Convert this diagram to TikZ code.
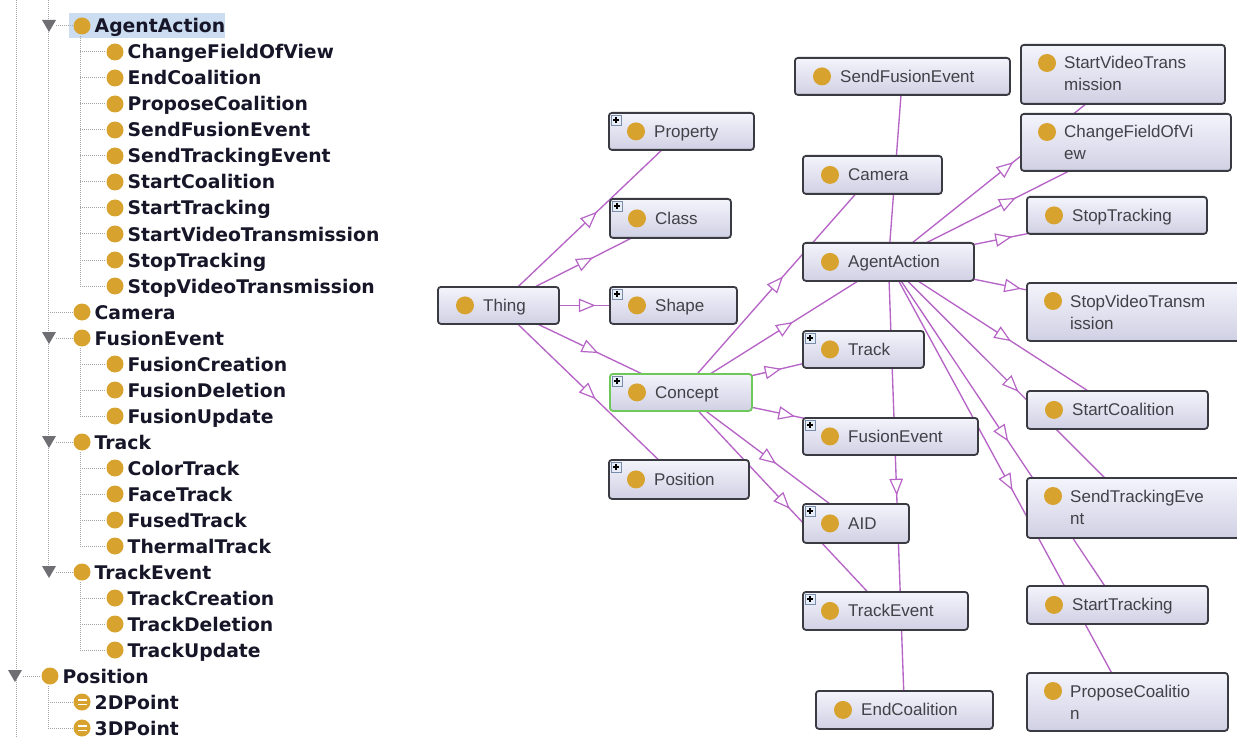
\documentclass[tikz,border=0pt]{standalone}
\usepackage{fontspec}
\setmainfont{Liberation Sans}
\newfontfamily\treefont{DejaVu Sans}
\usetikzlibrary{decorations.markings,calc}
\pgfdeclarelayer{bg}
\pgfsetlayers{bg,main}
\definecolor{edgecol}{RGB}{182,100,198}
\definecolor{gold}{RGB}{215,162,45}
\definecolor{boxtop}{RGB}{244,244,252}
\definecolor{boxbot}{RGB}{208,208,228}
\definecolor{boxline}{RGB}{58,58,66}
\definecolor{gtextcol}{RGB}{65,65,72}
\definecolor{treetext}{RGB}{22,22,40}
\definecolor{dotcol}{RGB}{165,165,165}
\definecolor{selcol}{RGB}{204,221,242}
\definecolor{concgreen}{RGB}{110,200,90}
\definecolor{trigray}{RGB}{110,110,115}
\definecolor{plusline}{RGB}{120,140,170}
\definecolor{plusfill}{RGB}{232,238,248}
\newcommand\midtri{\filldraw[fill=white,draw=edgecol,line width=1.2pt] (-6.5pt,-6pt) -- (8pt,0pt) -- (-6.5pt,6pt) -- cycle;}
\tikzset{
  gbox/.style={draw=boxline, line width=1.8pt, rounded corners=3pt, top color=boxtop, bottom color=boxbot, inner sep=0pt, anchor=north west},
  gtext/.style={text=gtextcol, font=\fontsize{17}{22}\selectfont, inner sep=0pt, anchor=base west},
  ttext/.style={text=treetext, font=\treefont\bfseries\fontsize{18.8}{22}\selectfont, inner sep=0pt, anchor=base west},
  dotline/.style={draw=dotcol, line width=1pt, dash pattern=on 1pt off 1pt},
  edge/.style={draw=edgecol, line width=1.35pt, postaction={decorate},
    decoration={markings, mark=at position 0.5 with {\midtri}}}
}
% graph box, one line
\newcommand\gbox[7][]{%
  \node[gbox,#1, minimum width={#5-#3}, minimum height={#6-#4}] (#2) at (#3,#4) {};
  \fill[gold] ($(#2.west)+(28,0)$) circle (9);
  \node[gtext] at ($(#2.west)+(46,6)$) {#7};
}
% graph box, two lines
\newcommand\gboxtwo[7]{%
  \node[gbox, minimum width={#4-#2}, minimum height={#5-#3}] (#1) at (#2,#3) {};
  \fill[gold] ($(#1.north west)+(27,19)$) circle (9);
  \node[gtext] at ($(#1.north west)+(44,25)$) {#6};
  \node[gtext] at ($(#1.north west)+(44,47)$) {#7};
}
\newcommand\gplus[1]{%
  \draw[plusline, fill=plusfill, line width=0.8pt] ($(#1.north west)+(3,3)$) rectangle +(10,10);
  \draw[black, line width=1.1pt] ($(#1.north west)+(5,8)$) -- +(6,0);
  \draw[black, line width=1.1pt] ($(#1.north west)+(8,5)$) -- +(0,6);
}
% tree entry
\newcommand\tnode[4]{%
  \fill[gold] (#2,#3) circle (8.5);
  \node[ttext] (#1) at (#2+12.5,#3+7) {#4};
}
\newcommand\ttri[2]{\fill[trigray] (#1-7,#2-6) -- (#1+7,#2-6) -- (#1,#2+6) -- cycle;}
\newcommand\gedge[2]{\draw[edge] (#1.center) -- (#2.center);}
\begin{document}
\begin{tikzpicture}[x=1pt,y=-1pt]
\useasboundingbox (0,0) rectangle (1237,738);
\clip (0,0) rectangle (1237,738);
% ---------- tree ----------
\fill[selcol] (69,13) rectangle (225,38);
\draw[dotline] (16,0) -- (16,738);
\draw[dotline] (48,0) -- (48,566);
\draw[dotline] (80,36) -- (80,286);
\foreach \yy in {52,78,...,286} {\draw[dotline] (80,\yy) -- (106,\yy);}
\draw[dotline] (80,348) -- (80,416);
\foreach \yy in {364,390,416} {\draw[dotline] (80,\yy) -- (106,\yy);}
\draw[dotline] (80,452) -- (80,546);
\foreach \yy in {468,494,520,546} {\draw[dotline] (80,\yy) -- (106,\yy);}
\draw[dotline] (80,582) -- (80,650);
\foreach \yy in {598,624,650} {\draw[dotline] (80,\yy) -- (106,\yy);}
\foreach \yy in {26,338,442,572} {\draw[dotline] (56,\yy) -- (73,\yy);}
\draw[dotline] (48,312) -- (73,312);
\draw[dotline] (23,676) -- (41,676);
\draw[dotline] (48,686) -- (48,728);
\foreach \yy in {702,728} {\draw[dotline] (48,\yy) -- (73,\yy);}
\ttri{49}{26}\ttri{49}{338}\ttri{49}{442}\ttri{49}{572}\ttri{15}{676}
\tnode{tAgent}{82}{26}{AgentAction}
\tnode{tCFOV}{115}{52}{ChangeFieldOfView}
\tnode{tEndC}{115}{78}{EndCoalition}
\tnode{tProp}{115}{104}{ProposeCoalition}
\tnode{tSFE}{115}{130}{SendFusionEvent}
\tnode{tSTE}{115}{156}{SendTrackingEvent}
\tnode{tSC}{115}{182}{StartCoalition}
\tnode{tST}{115}{208}{StartTracking}
\tnode{tSVT}{115}{234}{StartVideoTransmission}
\tnode{tStopT}{115}{260}{StopTracking}
\tnode{tStopV}{115}{286}{StopVideoTransmission}
\tnode{tCam}{82}{312}{Camera}
\tnode{tFE}{82}{338}{FusionEvent}
\tnode{tFC}{115}{364}{FusionCreation}
\tnode{tFD}{115}{390}{FusionDeletion}
\tnode{tFU}{115}{416}{FusionUpdate}
\tnode{tTr}{82}{442}{Track}
\tnode{tCT}{115}{468}{ColorTrack}
\tnode{tFT}{115}{494}{FaceTrack}
\tnode{tFuT}{115}{520}{FusedTrack}
\tnode{tTT}{115}{546}{ThermalTrack}
\tnode{tTE}{82}{572}{TrackEvent}
\tnode{tTC}{115}{598}{TrackCreation}
\tnode{tTD}{115}{624}{TrackDeletion}
\tnode{tTU}{115}{650}{TrackUpdate}
\tnode{tPos}{50}{676}{Position}
\tnode{t2D}{82}{702}{2DPoint}
\tnode{t3D}{82}{728}{3DPoint}
\draw[white, line width=1.4pt] (77.5,699.8) -- (86.5,699.8);
\draw[white, line width=1.4pt] (77.5,704.2) -- (86.5,704.2);
\draw[white, line width=1.4pt] (77.5,725.8) -- (86.5,725.8);
\draw[white, line width=1.4pt] (77.5,730.2) -- (86.5,730.2);
% ---------- graph ----------
\gbox{thing}{437}{286}{558}{323}{Thing}
\gbox{property}{608}{112}{753}{149}{Property}
\gbox{class}{609}{198}{730}{237}{Class}
\gbox{shape}{609}{286}{736}{323}{Shape}
\gbox[draw=concgreen]{concept}{609}{373}{751}{410}{Concept}
\gbox{position}{608}{459}{748}{498}{Position}
\gbox{sendfusion}{794}{57}{1009}{94}{SendFusionEvent}
\gbox{camera}{802}{155}{941}{193}{Camera}
\gbox{agent}{802}{242}{973}{280}{AgentAction}
\gbox{track}{802}{330}{923}{367}{Track}
\gbox{fusion}{802}{417}{977}{454}{FusionEvent}
\gbox{aid}{802}{503}{908}{542}{AID}
\gbox{trackevent}{802}{591}{967}{629}{TrackEvent}
\gbox{endcoal}{815}{690}{992}{728}{EndCoalition}
\gboxtwo{startvideo}{1020}{44}{1224}{103}{StartVideoTrans}{mission}
\gboxtwo{cfov}{1020}{113}{1230}{170}{ChangeFieldOfVi}{ew}
\gbox{stoptrack}{1026}{196}{1206}{233}{StopTracking}
\gboxtwo{stopvideo}{1026}{282}{1242}{340}{StopVideoTransm}{ission}
\gbox{startcoal}{1026}{390}{1207}{428}{StartCoalition}
\gboxtwo{sendtrack}{1026}{477}{1242}{537}{SendTrackingEve}{nt}
\gbox{starttrack}{1026}{585}{1207}{623}{StartTracking}
\gboxtwo{propose}{1026}{672}{1227}{730}{ProposeCoalitio}{n}
\gplus{property}\gplus{class}\gplus{shape}\gplus{concept}\gplus{position}
\gplus{track}\gplus{fusion}\gplus{aid}\gplus{trackevent}
\begin{pgfonlayer}{bg}
\gedge{thing}{property}
\gedge{thing}{class}
\gedge{thing}{shape}
\gedge{thing}{concept}
\gedge{thing}{position}
\gedge{concept}{camera}
\gedge{concept}{agent}
\gedge{concept}{track}
\gedge{concept}{fusion}
\gedge{concept}{aid}
\gedge{concept}{trackevent}
\gedge{agent}{sendfusion}
\gedge{agent}{startvideo}
\gedge{agent}{cfov}
\gedge{agent}{stoptrack}
\gedge{agent}{stopvideo}
\gedge{agent}{startcoal}
\gedge{agent}{sendtrack}
\gedge{agent}{starttrack}
\gedge{agent}{propose}
\gedge{agent}{endcoal}
\end{pgfonlayer}
\end{tikzpicture}
\end{document}
